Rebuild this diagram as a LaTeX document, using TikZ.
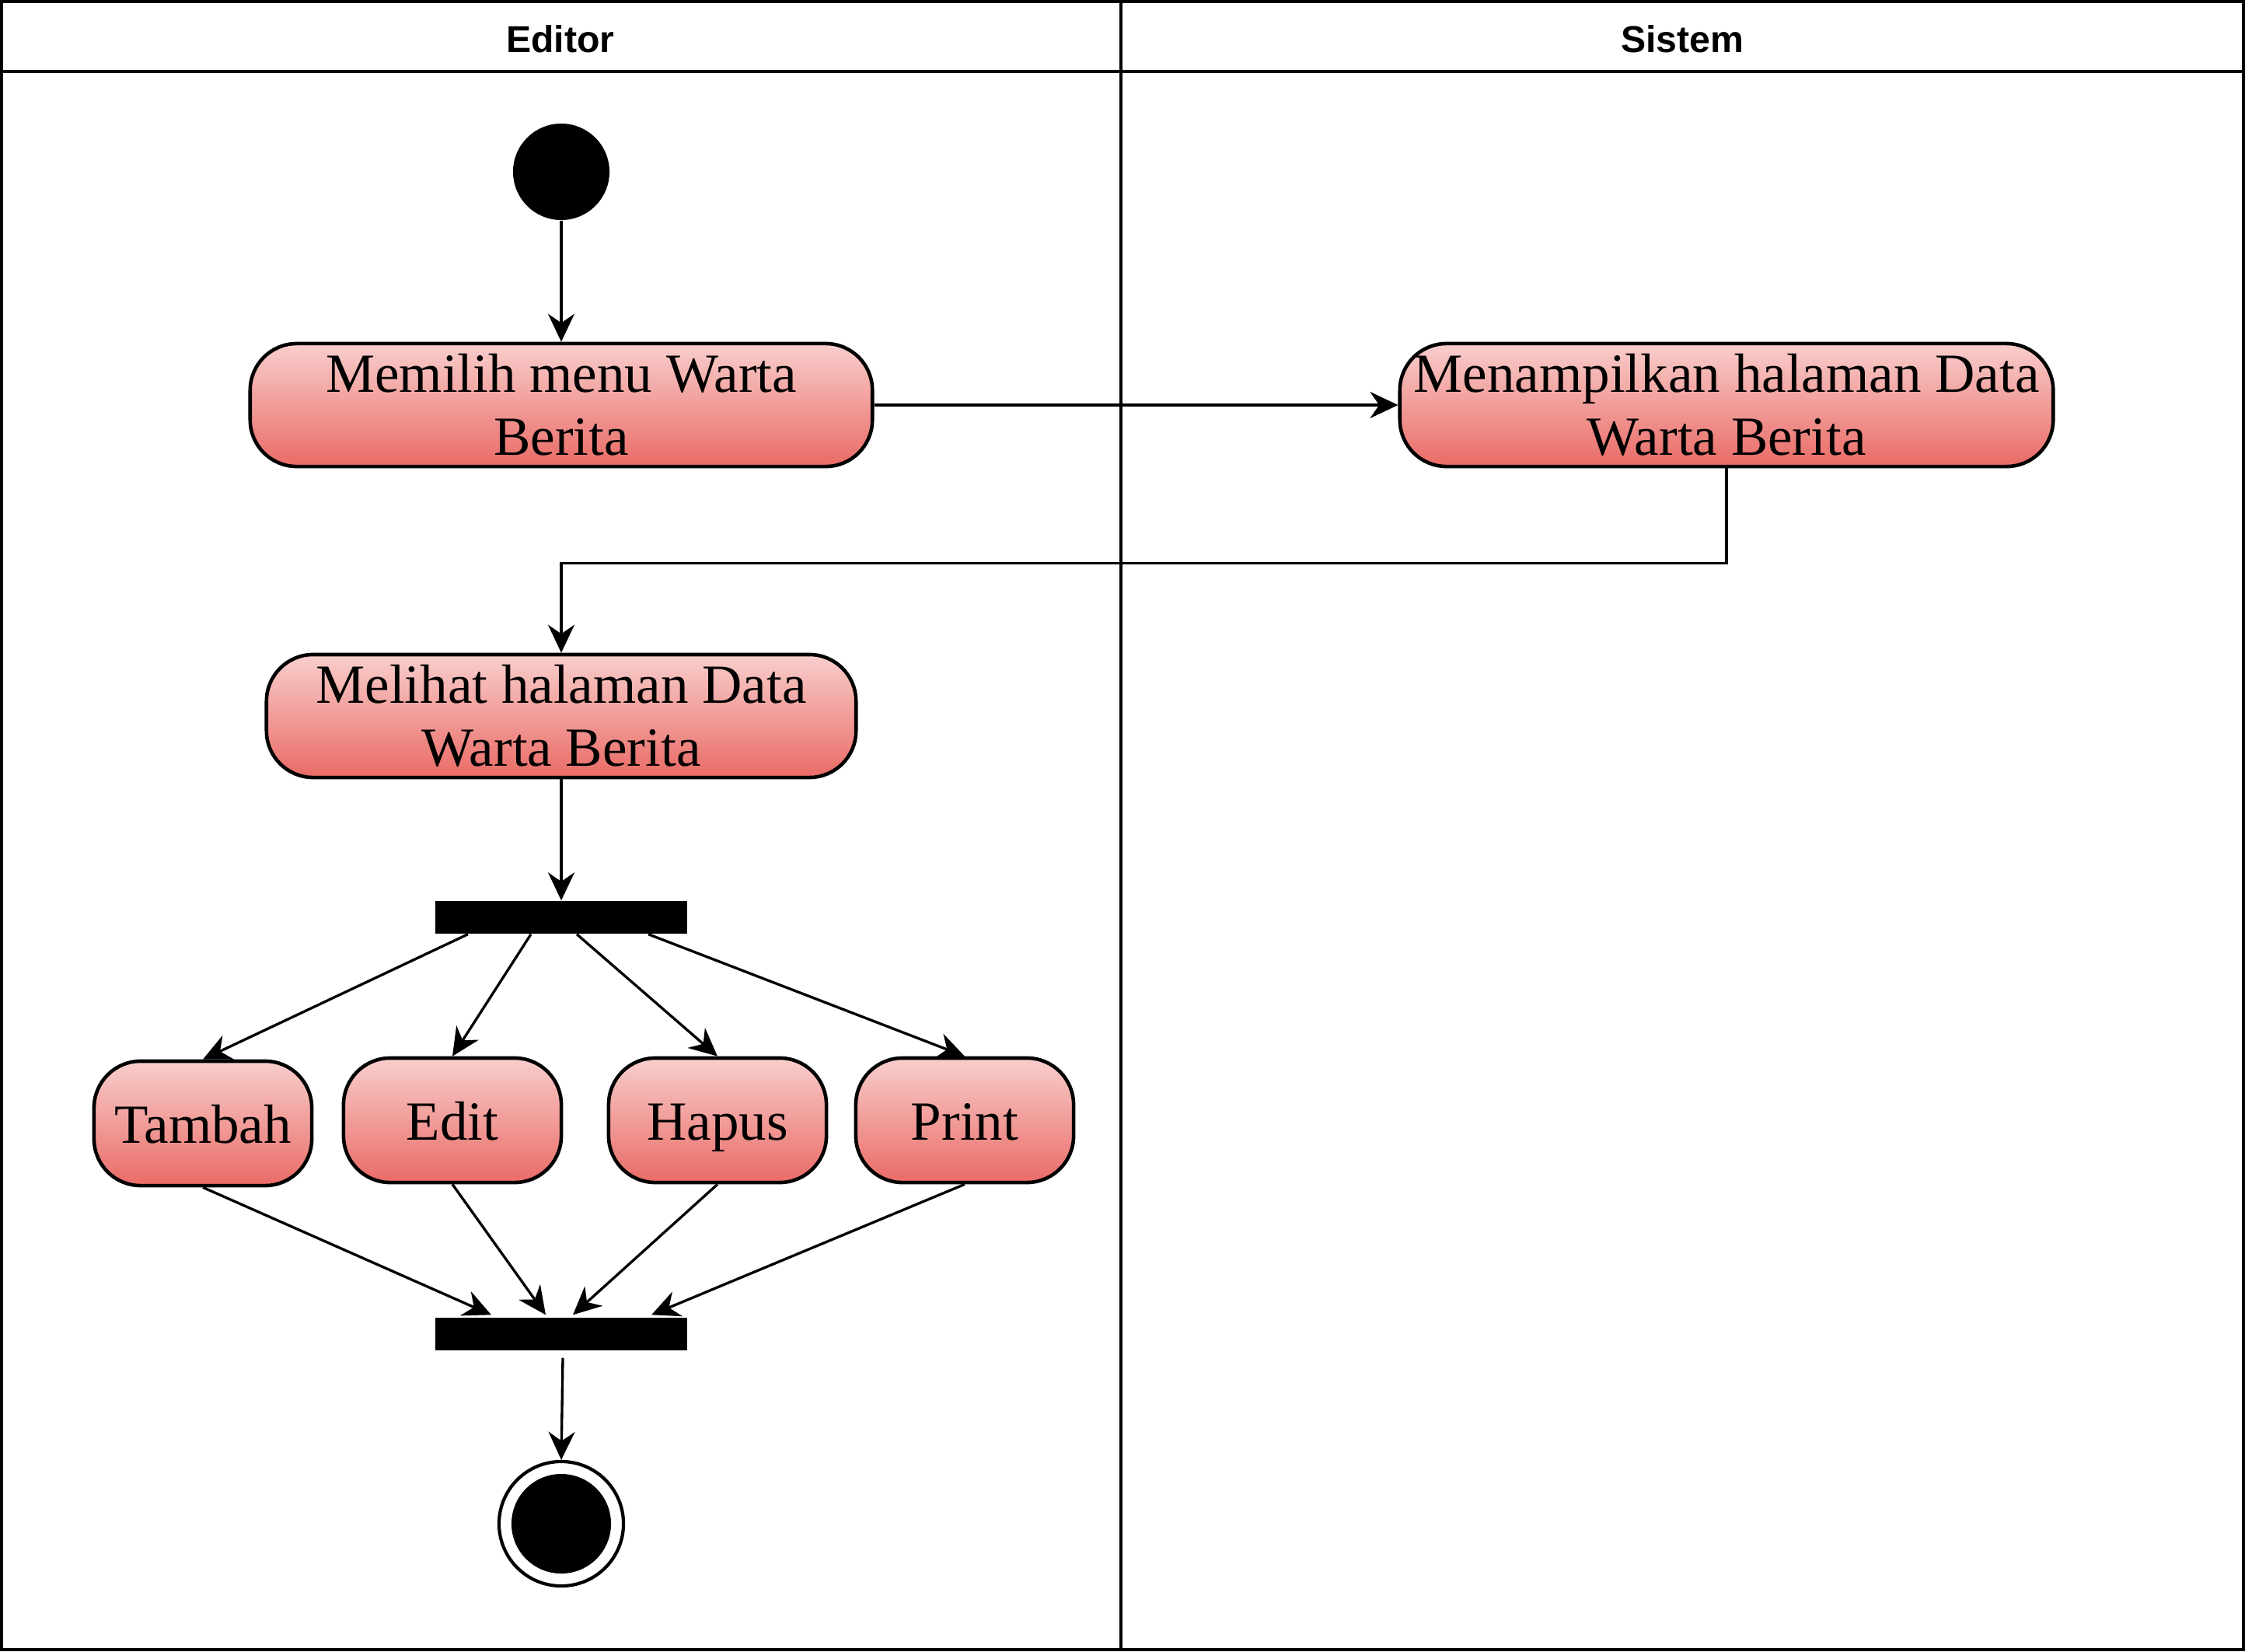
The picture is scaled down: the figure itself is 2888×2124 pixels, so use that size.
\documentclass[tikz,border=0pt]{standalone}
\usepackage{fontspec}
\setmainfont{Liberation Serif}
\setsansfont{Liberation Sans}
\usetikzlibrary{arrows.meta, calc}
\definecolor{pinktop}{HTML}{F8CECC}
\definecolor{pinkbot}{HTML}{EA6B66}

\begin{document}
\begin{tikzpicture}[x=0.01cm, y=-0.01cm, >={Stealth[length=0.36cm,width=0.34cm]},
  act/.style={draw, line width=1.3pt, rounded corners=0.6cm, top color=pinktop, bottom color=pinkbot,
    minimum height=1.58cm, align=center, inner sep=0pt, font=\fontsize{20.2}{23}\selectfont},
  choice/.style={act, minimum width=2.8cm, minimum height=1.6cm, text height=0.62cm, text depth=0.12cm},
  bar/.style={fill=black, minimum width=3.24cm, minimum height=0.42cm, inner sep=0pt},
  flow/.style={->, line width=0.95pt},
  lane/.style={font=\sffamily\bfseries\fontsize{13.7}{16}\selectfont}]
  \useasboundingbox (0,0) rectangle (2888,2124);
  % swimlanes
  \draw[line width=1.3pt] (2,2) rectangle (2886,2122);
  \draw[line width=1.3pt] (2,92) -- (2886,92);
  \draw[line width=1.1pt] (1442,2) -- (1442,2122);
  \path (721,50) node[lane] (editor) {Editor} (2164,50) node[lane] (sistem) {Sistem};
  % nodes
  \path (722,221) node[circle, fill=black, minimum size=1.24cm, inner sep=0pt] (start) {}
  (722,521) node[act, minimum width=8cm] (pilih) {Memilih menu Warta\\Berita}
  (2221,521) node[act, minimum width=8.4cm] (tampil) {Menampilkan halaman Data\\Warta Berita}
  (722,921) node[act, minimum width=7.58cm] (lihat) {Melihat halaman Data\\Warta Berita}
  (722,1180) node[bar] (fork) {}
  (261,1445) node[choice] (tambah) {Tambah}
  (582,1441) node[choice] (edit) {Edit}
  (923,1441) node[choice] (hapus) {Hapus}
  (1241,1441) node[choice] (print) {Print}
  (722,1716) node[bar] (join) {}
  (722,1960) node[circle, draw, line width=1.2pt, minimum size=1.6cm, inner sep=0pt] (stop) {};
  \fill (stop.center) circle (0.64cm);
  % flows
  \draw[flow] (start) -- (pilih.north);
  \draw[flow] (pilih.east) -- (tampil.west);
  \draw[flow] (tampil.south) -- ++(0,122) -| (lihat.north);
  \draw[flow] (lihat.south) -- (fork.north);
  \draw[flow] ([xshift=-1.2cm]fork.south) -- (tambah.north);
  \draw[flow] ([xshift=-0.39cm]fork.south) -- (edit.north);
  \draw[flow] ([xshift=0.2cm]fork.south) -- (hapus.north);
  \draw[flow] ([xshift=1.12cm]fork.south) -- (print.north);
  \draw[flow] (tambah.south) -- ([xshift=-0.9cm,yshift=0.03cm]join.north);
  \draw[flow] (edit.south) -- ([xshift=-0.2cm,yshift=0.03cm]join.north);
  \draw[flow] (hapus.south) -- ([xshift=0.15cm,yshift=0.03cm]join.north);
  \draw[flow] (print.south) -- ([xshift=1.16cm,yshift=0.03cm]join.north);
  \draw[flow] ([xshift=0.02cm,yshift=-0.09cm]join.south) -- (stop.north);
\end{tikzpicture}
\end{document}
